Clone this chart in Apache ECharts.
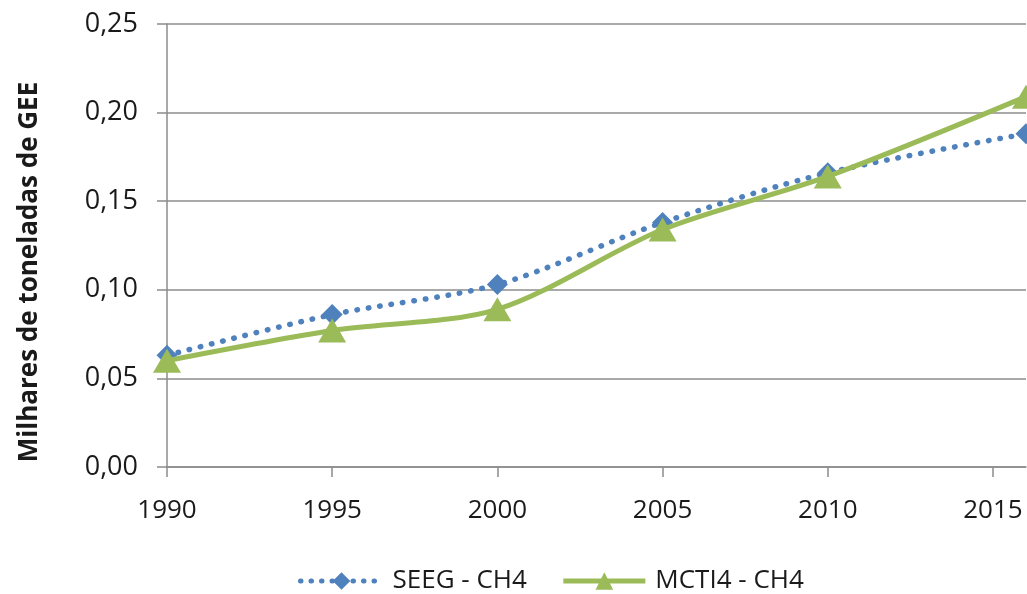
<!DOCTYPE html>
<html>
<head>
<meta charset="utf-8">
<script src="https://cdn.jsdelivr.net/npm/echarts@6/dist/echarts.min.js"></script>
<style>
  html, body { margin: 0; padding: 0; background: #fff; }
  #chart { width: 1027px; height: 594px; }
</style>
</head>
<body>
<div id="chart"></div>
<script>
// Emissões de CH4 (milhares de toneladas de GEE)
const years = [1990, 1995, 2000, 2005, 2010, 2016];
const seegCH4 = [0.063, 0.086, 0.103, 0.138, 0.166, 0.188];
const mctiCH4 = [0.060, 0.077, 0.089, 0.134, 0.164, 0.209];
const seriesNames = ['SEEG - CH4', 'MCTI4 - CH4'];
const yAxisTitle = 'Milhares de toneladas de GEE';

const font = '"Open Sans", "Liberation Sans", sans-serif';
const gridGrey = '#8c8c8c';
const textColor = '#1a1a1a';

const chart = echarts.init(document.getElementById('chart'));
chart.setOption({
  animation: false,
  textStyle: { fontFamily: font },
  grid: { left: 167, right: 1, top: 24, bottom: 127, containLabel: false },
  graphic: [{
    type: 'text',
    x: 30,
    y: 272,
    rotation: Math.PI / 2,
    style: {
      text: yAxisTitle,
      fontSize: 26,
      fontWeight: 'bold',
      fontFamily: font,
      fill: textColor,
      align: 'center',
      verticalAlign: 'middle'
    }
  }],
  legend: {
    top: 563,
    left: 293,
    itemWidth: 82,
    itemHeight: 22,
    itemGap: 34,
    textStyle: { fontSize: 26, color: textColor, fontFamily: font, padding: [0, 0, 0, 5] },
    data: [
      { name: seriesNames[0], lineStyle: { width: 5, type: [0.5, 10], cap: 'round' } },
      { name: seriesNames[1], lineStyle: { width: 5 } }
    ]
  },
  xAxis: {
    type: 'value',
    min: 1990,
    max: 2016,
    interval: 5,
    axisLine: { show: true, lineStyle: { color: gridGrey, width: 1.5 } },
    axisTick: { show: true, length: 10, lineStyle: { color: gridGrey, width: 1.5 } },
    splitLine: { show: false },
    axisLabel: {
      fontSize: 26, color: textColor, margin: 31,
      showMaxLabel: false,
      formatter: v => String(v)
    }
  },
  yAxis: {
    type: 'value',
    min: 0,
    max: 0.25,
    interval: 0.05,
    axisLine: { show: true, lineStyle: { color: gridGrey, width: 1.5 } },
    axisTick: { show: true, length: 10, lineStyle: { color: gridGrey, width: 1.5 } },
    splitLine: { show: true, lineStyle: { color: gridGrey, width: 1.5 } },
    axisLabel: {
      fontSize: 27, color: textColor, margin: 29,
      formatter: v => v.toFixed(2).replace('.', ',')
    }
  },
  series: [
    {
      name: seriesNames[0],
      type: 'line',
      data: years.map((y, i) => [y, seegCH4[i]]),
      smooth: 0.3,
      symbol: 'diamond',
      symbolSize: 21,
      itemStyle: { color: '#4F81BD' },
      lineStyle: { color: '#4F81BD', width: 5.5, type: [0.5, 11], cap: 'round' },
      z: 2
    },
    {
      name: seriesNames[1],
      type: 'line',
      data: years.map((y, i) => [y, mctiCH4[i]]),
      smooth: 0.3,
      symbol: 'triangle',
      symbolSize: [28, 24],
      itemStyle: { color: '#9BBB59' },
      lineStyle: { color: '#9BBB59', width: 5 },
      z: 3
    }
  ]
});
</script>
</body>
</html>
